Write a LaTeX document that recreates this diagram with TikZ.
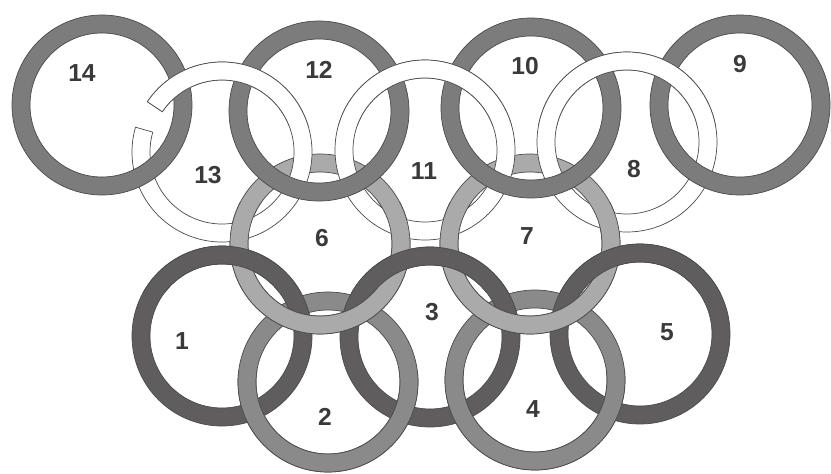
\documentclass[tikz,border=0pt]{standalone}
\usepackage{fontspec}
\setmainfont{Liberation Sans}
\definecolor{ringtop}{HTML}{7C7C7C}
\definecolor{ringdeep}{HTML}{5F5D5D}
\definecolor{ringmid}{HTML}{8A8A8A}
\definecolor{ringlight}{HTML}{AAAAAA}
\definecolor{ringline}{HTML}{4A4A4A}
\definecolor{numgray}{HTML}{3A3A3A}

\begin{document}
\begin{tikzpicture}[x=0.03cm, y=-0.03cm,
    ring/.style={even odd rule, draw=ringline, line width=0.6pt},
    num/.style={font=\fontsize{21}{21}\selectfont\bfseries, text=numgray, inner sep=0pt}]
  \useasboundingbox (0,0) rectangle (831,474);
  % bottom chain
  \foreach \cx/\cy in {328/382, 535/380}
    \filldraw[ring, fill=ringmid] (\cx,\cy) circle[radius=90] (\cx,\cy) circle[radius=72];
  \foreach \cx/\cy in {222/336, 430/337, 640/334}
    \filldraw[ring, fill=ringdeep] (\cx,\cy) circle[radius=90] (\cx,\cy) circle[radius=72];
  % middle links
  \foreach \cx/\cy in {320/244, 530/244}
    \filldraw[ring, fill=ringlight] (\cx,\cy) circle[radius=90] (\cx,\cy) circle[radius=72];
  % white links, 13 is open
  \filldraw[ring, fill=white] (222,152) ++(214:90) arc[start angle=214, end angle=556, radius=90]
    -- ++(556:-18) arc[start angle=556, end angle=214, radius=72] -- cycle;
  \foreach \cx/\cy in {425/150, 627/142}
    \filldraw[ring, fill=white] (\cx,\cy) circle[radius=90] (\cx,\cy) circle[radius=72];
  % top row
  \foreach \cx/\cy in {102/105, 319/111, 531/108, 740/105}
    \filldraw[ring, fill=ringtop] (\cx,\cy) circle[radius=90] (\cx,\cy) circle[radius=72];

  % weave: the parts that pass over again
  \begin{scope}
    \clip (0,202) rectangle (831,474);
    \foreach \cx/\cy in {320/244, 530/244}
      \filldraw[ring, fill=ringlight] (\cx,\cy) circle[radius=90] (\cx,\cy) circle[radius=72];
  \end{scope}
  \begin{scope}
    \clip (0,0) rectangle (831,292);
    \foreach \cx/\cy in {222/336, 430/337, 640/334}
      \filldraw[ring, fill=ringdeep] (\cx,\cy) circle[radius=90] (\cx,\cy) circle[radius=72];
  \end{scope}
  \begin{scope}
    \clip (0,370) rectangle (831,474);
    \foreach \cx/\cy in {328/382, 535/380}
      \filldraw[ring, fill=ringmid] (\cx,\cy) circle[radius=90] (\cx,\cy) circle[radius=72];
  \end{scope}
  \begin{scope}
    \clip (0,0) rectangle (831,125);
    \filldraw[ring, fill=white] (222,152) ++(214:90) arc[start angle=214, end angle=556, radius=90]
      -- ++(556:-18) arc[start angle=556, end angle=214, radius=72] -- cycle;
    \foreach \cx/\cy in {425/150, 627/142}
      \filldraw[ring, fill=white] (\cx,\cy) circle[radius=90] (\cx,\cy) circle[radius=72];
  \end{scope}

  % numbers
  \node[num] (n14) at (82,73) {14};
  \node[num] (n12) at (319,70) {12};
  \node[num] (n10) at (525,66) {10};
  \node[num] (n9) at (740,64) {9};
  \node[num] (n13) at (208,175) {13};
  \node[num] (n11) at (424,171) {11};
  \node[num] (n8) at (634,169) {8};
  \node[num] (n6) at (322,238) {6};
  \node[num] (n7) at (527,236) {7};
  \node[num] (n1) at (182,341) {1};
  \node[num] (n3) at (432,312) {3};
  \node[num] (n5) at (667,332) {5};
  \node[num] (n2) at (325,417) {2};
  \node[num] (n4) at (533,409) {4};
\end{tikzpicture}
\end{document}
